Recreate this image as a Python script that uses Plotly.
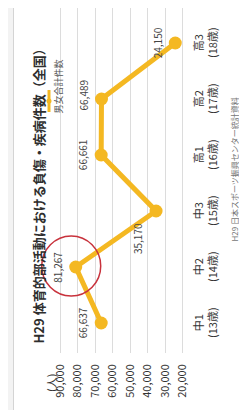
import plotly.graph_objects as go

# ---- data ----
grades = ["中1", "中2", "中3", "高1", "高2", "高3"]
ages = ["(13歳)", "(14歳)", "(15歳)", "(16歳)", "(17歳)", "(18歳)"]
cases = [66637, 81267, 35170, 66661, 66489, 24150]
tick_values = [90000, 80000, 70000, 60000, 50000, 40000, 30000, 20000]
title_text = "H29 体育的部活動における負傷・疾病件数（全国）"
legend_text = "男女合計件数"
source_text = "H29 日本スポーツ振興センター統計資料"
unit_text = "(人)"
highlight_index = 1

FONT = "Noto Sans CJK JP, Noto Sans, sans-serif"
GOLD = "#F4B822"
W, H = 247, 410
T, B = 0, 65
PH = H - T - B  # plot height

def py(pix):  # pixel y -> paper y
    return (PH - (pix - T)) / PH

def px(pix):
    return pix / W

fig = go.Figure()
fig.add_trace(go.Scatter(
    x=cases, y=grades, mode="lines+markers",
    line=dict(color=GOLD, width=5),
    marker=dict(color=GOLD, size=13),
    hoverinfo="skip", showlegend=False,
))

# data labels (rotated)
label_yshift = [0, 0, -28, 0, 4, 0]
for g, v, ys in zip(grades, cases, label_yshift):
    fig.add_annotation(x=v, y=g, xref="x", yref="y", text=f"{v:,}",
                       textangle=-90, showarrow=False, xshift=-18, yshift=ys,
                       font=dict(family=FONT, size=10, color="#444444"))

# category labels (rotated)
for g, a in zip(grades, ages):
    fig.add_annotation(x=px(214), y=g, xref="paper", yref="y",
                       text=f"{g}<br>{a}", textangle=-90, showarrow=False,
                       font=dict(family=FONT, size=11, color="#333333"))

# frame
fig.add_shape(type="rect", xref="paper", yref="paper",
              x0=px(5.5), x1=1.2, y0=py(402.5), y1=1.2,
              fillcolor="white", line=dict(color="#d4d4d4", width=1), layer="below")

# highlight circle
fig.add_shape(type="circle", xref="x", yref="y",
              xsizemode="pixel", ysizemode="pixel",
              xanchor=cases[highlight_index], yanchor=highlight_index,
              x0=-34, x1=25, y0=-29, y1=31,
              line=dict(color="#C8323C", width=1.5))

# legend (drawn rotated)
fig.add_shape(type="line", xref="paper", yref="paper",
              x0=px(41), x1=px(41), y0=py(104), y1=py(82),
              line=dict(color=GOLD, width=3))
fig.add_shape(type="circle", xref="paper", yref="paper",
              x0=px(38.5), x1=px(43.5), y0=py(95.5), y1=py(90.5),
              fillcolor=GOLD, line=dict(width=0))
fig.add_annotation(x=px(41), y=py(50), xref="paper", yref="paper",
                   text=legend_text, textangle=-90, showarrow=False,
                   font=dict(family=FONT, size=9, color="#555555"))

# title
fig.add_annotation(x=px(19), y=py(185), xref="paper", yref="paper",
                   text=f"<b>{title_text}</b>", textangle=-90, showarrow=False,
                   font=dict(family=FONT, size=13, color="#2e2e2e"))
# source
fig.add_annotation(x=px(233), y=py(88), xref="paper", yref="paper",
                   text=source_text, textangle=-90, showarrow=False,
                   font=dict(family=FONT, size=8, color="#777777"))
# unit
fig.add_annotation(x=px(33), y=py(386), xref="paper", yref="paper",
                   text=unit_text, textangle=-90, showarrow=False,
                   font=dict(family=FONT, size=11, color="#333333"))

fig.update_layout(
    width=W, height=H,
    margin=dict(l=0, r=0, t=T, b=B),
    paper_bgcolor="#f3f3f3", plot_bgcolor="rgba(0,0,0,0)",
    showlegend=False,
    xaxis=dict(range=[120123, -21598], tickvals=tick_values, tickformat=",",
               tickangle=-90, showgrid=True, gridcolor="#dcdcdc", gridwidth=1,
               zeroline=False, showline=False, ticks="", ticklabelstandoff=8,
               tickfont=dict(family=FONT, size=11, color="#333333")),
    yaxis=dict(type="category", categoryorder="array", categoryarray=grades,
               range=[-0.536, 5.625], showticklabels=False, showgrid=False,
               zeroline=False, showline=False),
)

fig.write_html("out.html")
